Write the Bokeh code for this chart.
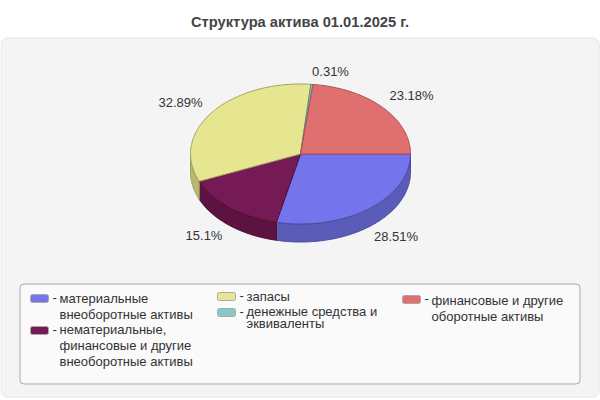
import numpy as np
from bokeh.plotting import figure
from bokeh.models import Range1d
from bokeh.core.properties import value
from bokeh.embed import file_html
from bokeh.resources import INLINE

title = "Структура актива 01.01.2025 г."
shares = [28.51, 15.1, 32.89, 0.31, 23.18]
top_colors = ["#7474EC", "#751A54", "#E6E690", "#8AC8C8", "#E07070"]
side_colors = ["#5B5BB8", "#5C1340", "#B8B873", "#6C9C9C", "#AF5757"]
edge_colors = ["#4A4A9C", "#4F1039", "#A0A060", "#5A8A8A", "#A85050"]
legend_lines = [
    ["материальные", "внеоборотные активы"],
    ["нематериальные,", "финансовые и другие", "внеоборотные активы"],
    ["запасы"],
    ["денежные средства и", "эквиваленты"],
    ["финансовые и другие", "оборотные активы"],
]

FONT = value("Liberation Sans")
p = figure(width=600, height=400, output_backend="svg", toolbar_location=None,
           x_range=Range1d(0, 600), y_range=Range1d(400, 0),
           x_axis_location=None, y_axis_location=None, min_border=0,
           outline_line_color=None, background_fill_color="white",
           border_fill_color="white")
p.xgrid.visible = False
p.ygrid.visible = False

# panel and legend box
p.quad(left=[0.5], right=[598.5], top=[37.5], bottom=[396.5], fill_color="#F4F4F4",
       line_color="#E4E4E4", border_radius=6)
p.quad(left=[19.5], right=[579.5], top=[283.5], bottom=[383.5], fill_color="#FAFAFA",
       line_color="#A8A8A8", border_radius=4)

p.text([299.5], [21], text=[title], text_font=FONT, text_font_size="14.7px",
       text_font_style="bold", text_color="#444444", text_align="center",
       text_baseline="middle")

# pie geometry, angles derived from the shares
cx, cy, rx, ry, depth = 300, 153.5, 110, 70, 18
ends = np.cumsum(shares) / sum(shares) * 2 * np.pi
starts = np.concatenate([[0], ends[:-1]])

side_x, side_y, side_fill, side_line = [], [], [], []
top_x, top_y, top_fill, top_line = [], [], [], []
for a0, a1, tc, sc, ec in zip(starts, ends, top_colors, side_colors, edge_colors):
    t = np.linspace(a0, a1, max(3, int((a1 - a0) * 60)))
    ex, ey = cx + rx * np.cos(t), cy + ry * np.sin(t)
    top_x.append(np.concatenate([[cx], ex]))
    top_y.append(np.concatenate([[cy], ey]))
    top_fill.append(tc)
    top_line.append(ec)
    lo, hi = max(a0, 0), min(a1, np.pi)
    if hi > lo:
        s = np.linspace(lo, hi, max(3, int((hi - lo) * 60)))
        sx, sy = cx + rx * np.cos(s), cy + ry * np.sin(s)
        side_x.append(np.concatenate([sx, sx[::-1]]))
        side_y.append(np.concatenate([sy, (sy + depth)[::-1]]))
        side_fill.append(sc)
        side_line.append(ec)

p.patches(side_x, side_y, fill_color=side_fill, line_color=side_line, line_width=1)
p.patches(top_x, top_y, fill_color=top_fill, line_color=top_line, line_width=1)

# percentage labels
label_x = [395.5, 203.5, 180, 330, 411]
label_y = [236, 235, 102, 71, 95]
p.text(label_x, label_y, text=[f"{v:g}%" for v in shares], text_font=FONT,
       text_font_size="13px", text_color="#333333", text_align="center",
       text_baseline="middle")

# legend
sw_x = [30, 30, 217, 217, 402]
sw_y = [294, 326, 292, 308, 295]
txt_y = [[297.5, 313.5], [329, 345, 360.5], [295.5], [310.5, 322.5], [299.5, 315.5]]
p.quad(left=sw_x, right=[x + 18 for x in sw_x], top=sw_y, bottom=[y + 8 for y in sw_y],
       fill_color=top_colors, line_color="#A8A8A8", border_radius=2)
dx, dy, dt, tx, ty, tt = [], [], [], [], [], []
for x, sy, ys, lines in zip(sw_x, sw_y, txt_y, legend_lines):
    dx.append(x + 22); dy.append(sy + 3); dt.append("-")
    for y, line in zip(ys, lines):
        tx.append(x + 29); ty.append(y); tt.append(line)
p.text(dx, dy, text=dt, text_font=FONT, text_font_size="13px", text_color="#333333",
       text_baseline="middle")
p.text(tx, ty, text=tt, text_font=FONT, text_font_size="13px", text_color="#333333",
       text_baseline="middle")

open("out.html", "w").write(file_html(p, INLINE))
